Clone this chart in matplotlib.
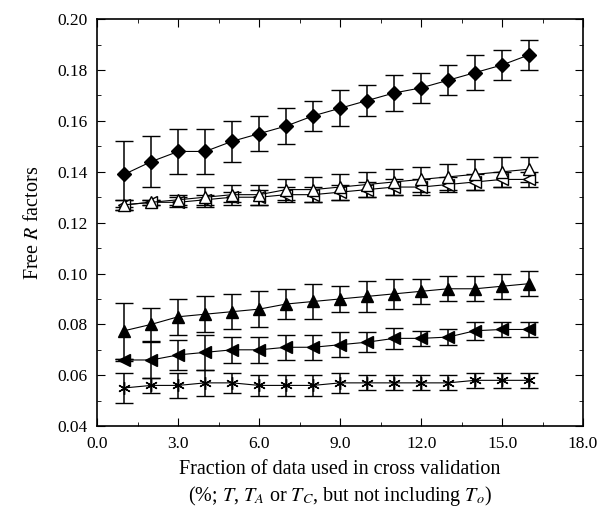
import numpy as np
import matplotlib
matplotlib.use('Agg')
import matplotlib.pyplot as plt
from matplotlib.ticker import MultipleLocator, FormatStrFormatter

plt.rcParams['font.family'] = 'Liberation Serif'
plt.rcParams['mathtext.fontset'] = 'stix'

frac = np.arange(1, 17)

# filled diamonds
r_diam = [0.139, 0.144, 0.148, 0.148, 0.152, 0.155, 0.158, 0.162,
          0.165, 0.168, 0.171, 0.173, 0.176, 0.179, 0.182, 0.186]
e_diam = [0.013, 0.010, 0.009, 0.009, 0.008, 0.007, 0.007, 0.006,
          0.007, 0.006, 0.007, 0.006, 0.006, 0.007, 0.006, 0.006]

# open triangles
r_otri = [0.127, 0.128, 0.129, 0.130, 0.131, 0.131, 0.133, 0.133,
          0.134, 0.135, 0.136, 0.137, 0.138, 0.139, 0.140, 0.141]
e_otri = [0.002, 0.001, 0.002, 0.004, 0.004, 0.004, 0.004, 0.005,
          0.005, 0.005, 0.005, 0.005, 0.005, 0.006, 0.006, 0.005]

# open left triangles
r_oleft = [0.127, 0.128, 0.128, 0.129, 0.130, 0.130, 0.131, 0.131,
           0.132, 0.133, 0.134, 0.134, 0.135, 0.136, 0.137, 0.137]
e_oleft = [0.002, 0.001, 0.002, 0.002, 0.002, 0.003, 0.003, 0.003,
           0.003, 0.003, 0.003, 0.003, 0.003, 0.003, 0.003, 0.003]

# filled triangles
r_ftri = [0.0775, 0.080, 0.083, 0.084, 0.085, 0.086, 0.088, 0.089,
          0.090, 0.091, 0.092, 0.093, 0.094, 0.094, 0.095, 0.096]
e_ftri = [0.011, 0.0065, 0.007, 0.007, 0.007, 0.007, 0.006, 0.007,
          0.005, 0.006, 0.006, 0.005, 0.005, 0.005, 0.005, 0.005]

# filled left triangles
r_fleft = [0.066, 0.066, 0.068, 0.069, 0.070, 0.070, 0.071, 0.071,
           0.072, 0.073, 0.0745, 0.0745, 0.075, 0.0775, 0.078, 0.078]
e_fleft = [0.0005, 0.007, 0.006, 0.007, 0.005, 0.005, 0.005, 0.005,
           0.005, 0.004, 0.004, 0.003, 0.003, 0.0035, 0.003, 0.003]

# asterisks
r_star = [0.055, 0.056, 0.056, 0.057, 0.057, 0.056, 0.056, 0.056,
          0.057, 0.057, 0.057, 0.057, 0.057, 0.058, 0.058, 0.058]
e_star = [0.006, 0.003, 0.005, 0.005, 0.004, 0.004, 0.004, 0.004,
          0.004, 0.003, 0.003, 0.003, 0.003, 0.003, 0.003, 0.003]

fig = plt.figure(figsize=(6.08, 5.19), dpi=100)
ax = fig.add_axes([0.16, 0.179, 0.799, 0.784])

series = [
    (r_star, e_star, (6, 2, 0), 'k', 9),
    (r_fleft, e_fleft, '<', 'k', 9),
    (r_ftri, e_ftri, '^', 'k', 9),
    (r_oleft, e_oleft, '<', 'white', 8),
    (r_otri, e_otri, '^', 'white', 8),
    (r_diam, e_diam, 'D', 'k', 7),
]
for vals, errs, mk, fc, ms in series:
    ax.errorbar(frac, vals, yerr=errs, fmt='-', color='k', lw=0.8,
                marker=mk, mfc=fc, mec='k', ms=ms, mew=1.0,
                elinewidth=1.1, capsize=6.5, capthick=1.1)

ax.set_xlim(0, 18)
ax.set_ylim(0.04, 0.20)
ax.xaxis.set_major_locator(MultipleLocator(3))
ax.xaxis.set_minor_locator(MultipleLocator(1.5))
ax.yaxis.set_major_locator(MultipleLocator(0.02))
ax.yaxis.set_minor_locator(MultipleLocator(0.01))
ax.xaxis.set_major_formatter(FormatStrFormatter('%.1f'))
ax.yaxis.set_major_formatter(FormatStrFormatter('%.2f'))
ax.tick_params(which='both', direction='in', top=True, right=True,
               labelsize=12.5, pad=7)
ax.tick_params(which='major', length=6)
ax.tick_params(which='minor', length=3)
for s in ax.spines.values():
    s.set_linewidth(1.2)

ax.set_ylabel('Free $R$ factors', fontsize=14.5, labelpad=10)
ax.set_xlabel('Fraction of data used in cross validation\n'
              '(%; $T$, $T_A$ or $T_C$, but not including $T_o$)',
              fontsize=14.5, labelpad=6, linespacing=1.3)

plt.savefig('out.png', dpi=100)
